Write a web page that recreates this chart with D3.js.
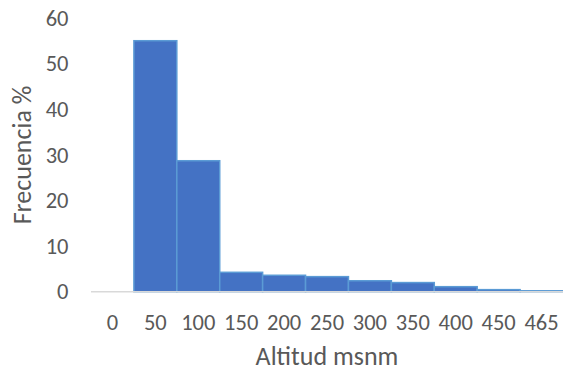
<!DOCTYPE html>
<html>
<head>
<meta charset="utf-8">
<script src="https://cdn.jsdelivr.net/npm/d3@7"></script>
<style>
  html, body { margin: 0; padding: 0; background: #fff; }
  svg { display: block; }
  text { font-family: Carlito, "Open Sans", sans-serif; fill: #595959; }
</style>
</head>
<body>
<svg id="chart" width="563" height="373"></svg>
<script>
// Altitude classes (m a.s.l.) and relative frequency (%)
const altitudes = ["0", "50", "100", "150", "200", "250", "300", "350", "400", "450", "465"];
const frequency = [0, 55, 28.7, 4.25, 3.6, 3.3, 2.4, 2.0, 1.1, 0.45, 0.2];
const yTicks = [0, 10, 20, 30, 40, 50, 60];

const svg = d3.select("#chart");
const plotLeft = 91, plotRight = 563, plotTop = 17.9, plotBottom = 291.7;
const tickFont = 22.5, titleFont = 26;

const x = d3.scaleBand().domain(altitudes).range([plotLeft, plotRight]).padding(0);
const y = d3.scaleLinear().domain([0, 60]).range([plotBottom, plotTop]);

const data = altitudes.map((a, i) => ({ a, v: frequency[i] }));

// Histogram bars
svg.append("g")
  .selectAll("rect")
  .data(data.filter(d => d.v > 0))
  .join("rect")
  .attr("x", d => x(d.a))
  .attr("y", d => y(d.v))
  .attr("width", x.bandwidth())
  .attr("height", d => y(0) - y(d.v))
  .attr("fill", "#4472C4")
  .attr("stroke", "#5B9BD5")
  .attr("stroke-width", 1.5);

// Horizontal baseline
svg.append("line")
  .attr("x1", plotLeft).attr("x2", plotRight)
  .attr("y1", y(0)).attr("y2", y(0))
  .attr("stroke", "#D9D9D9")
  .attr("stroke-width", 1.5);

// Y axis labels
const yAxis = d3.axisLeft(y).tickValues(yTicks).tickSize(0).tickPadding(0);
const gy = svg.append("g").attr("transform", "translate(68.5,0)").call(yAxis);
gy.select(".domain").remove();
gy.attr("font-family", null).attr("font-size", null);
gy.selectAll("text").attr("font-size", tickFont).attr("fill", "#595959");

// X axis labels
const xAxis = d3.axisBottom(x).tickSize(0).tickPadding(0);
const gx = svg.append("g").attr("transform", "translate(0,314)").call(xAxis);
gx.select(".domain").remove();
gx.attr("font-family", null).attr("font-size", null);
gx.selectAll("text").attr("font-size", tickFont).attr("fill", "#595959");

// Axis titles
svg.append("text")
  .attr("x", (plotLeft + plotRight) / 2)
  .attr("y", 365)
  .attr("text-anchor", "middle")
  .attr("font-size", titleFont)
  .text("Altitud msnm");

svg.append("text")
  .attr("transform", "translate(31,155) rotate(-90)")
  .attr("text-anchor", "middle")
  .attr("font-size", titleFont)
  .text("Frecuencia %");
</script>
</body>
</html>
